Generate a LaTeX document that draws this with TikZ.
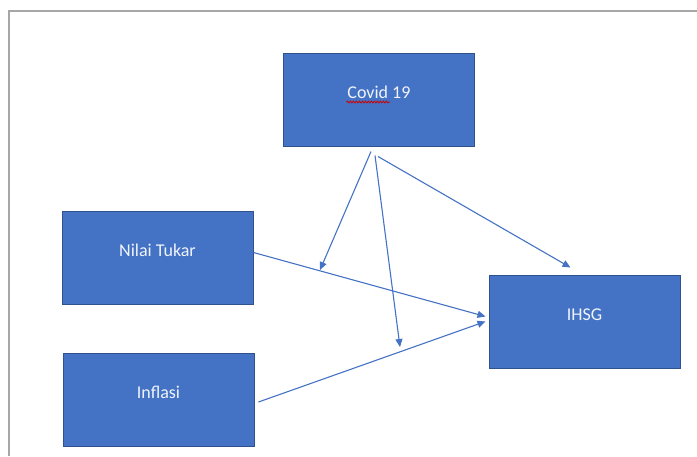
\documentclass[tikz,border=0pt]{standalone}
\usepackage{fontspec}
\setmainfont{Carlito}
\usetikzlibrary{arrows.meta,decorations.pathmorphing}

\definecolor{boxblue}{HTML}{4472C4}
\definecolor{boxedge}{HTML}{2F528F}
\definecolor{framegray}{HTML}{A6A6A6}

\tikzset{
  varbox/.style={draw=boxedge, fill=boxblue, line width=1pt, minimum width=191pt,
    minimum height=93pt, text=white!92!boxblue, font=\fontsize{18}{21}\selectfont,
    text height=12pt, text depth=15pt, inner sep=0pt},
  link/.style={draw=boxblue, line width=1.1pt, -{Triangle[length=8pt,width=7pt]}}
}

\begin{document}
\begin{tikzpicture}[x=1pt,y=-1pt]
                \useasboundingbox (0,0) rectangle (697,456);
                \draw[framegray, line width=2pt] (8.5,456) -- (8.5,10.5) -- (697,10.5);

                \node[varbox] (covid) at (379,99.5) {Covid 19};
                \node[varbox] (nilai) at (157.5,257.5) {Nilai Tukar};
                \node[varbox] (inflasi) at (158.5,400) {Inflasi};
                \node[varbox] (ihsg) at (584.5,321.5) {IHSG};
                % spell check mark
                \draw[red!80!black, line width=0.8pt, decorate,
                  decoration={snake, amplitude=0.9pt, segment length=3pt}]
                  (346.5,102) -- (390,102);

                \coordinate (c1) at ([xshift=-8pt,yshift=-5pt]covid.south);
                \coordinate (c2) at ([xshift=-4pt,yshift=-9pt]covid.south);
                \coordinate (c3) at ([xshift=-1pt,yshift=-10pt]covid.south);
                \coordinate (m1) at (320,270);
                \coordinate (m2) at (400,347);
                \coordinate (i1) at ([xshift=-14pt,yshift=7pt]ihsg.north);
                \coordinate (n1) at ([yshift=5pt]nilai.east);
                \coordinate (f1) at ([xshift=4pt,yshift=-2pt]inflasi.east);
                \coordinate (i2) at ([xshift=-3pt,yshift=5pt]ihsg.west);
                \coordinate (i3) at ([xshift=-3pt]ihsg.west);

                \foreach \from/\to in {c1/m1, c2/m2, c3/i1, n1/i2, f1/i3}
                \draw[link] (\from) -- (\to);
\end{tikzpicture}
\end{document}
